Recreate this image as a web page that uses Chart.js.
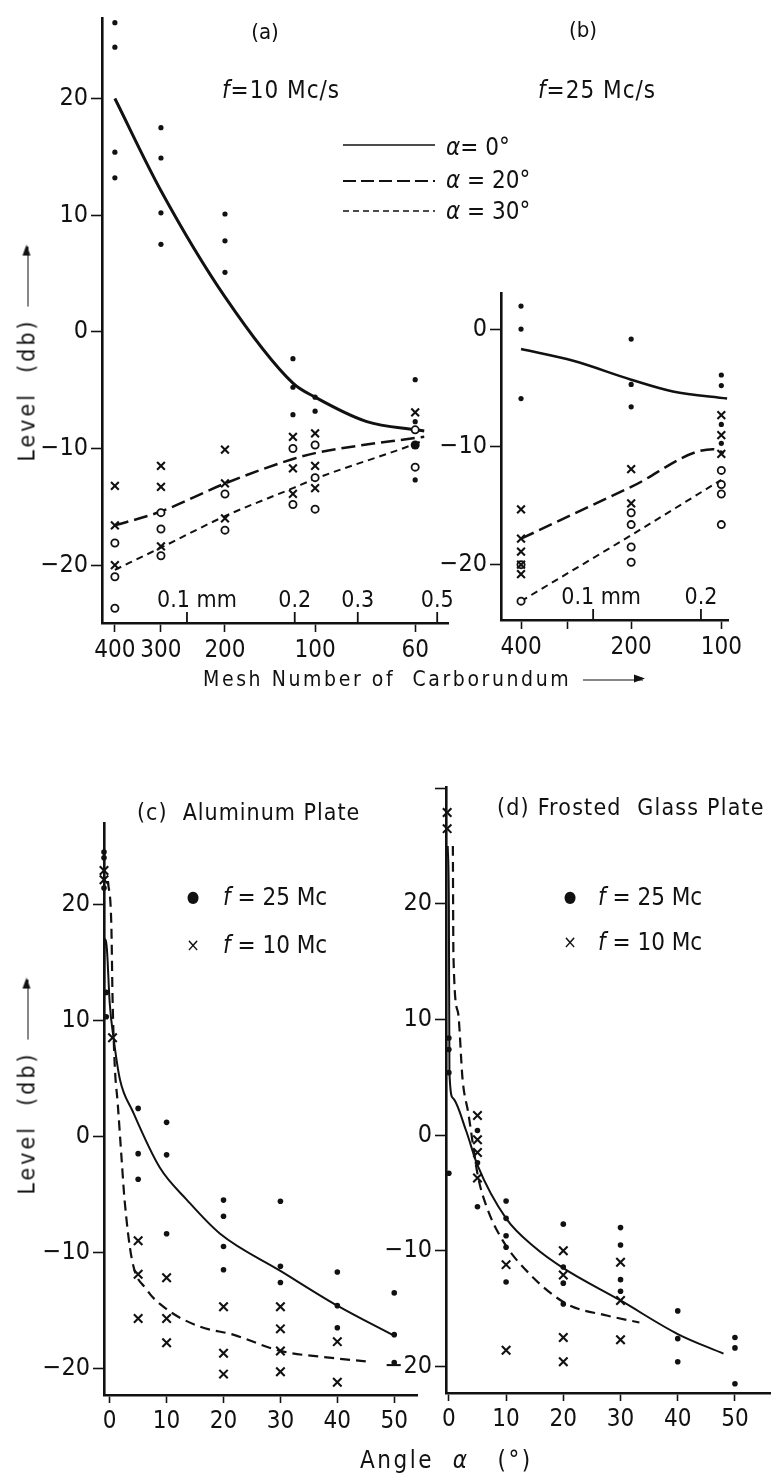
<!DOCTYPE html>
<html>
<head>
<meta charset="utf-8">
<title>Level vs mesh number and angle</title>
<script src="https://cdn.jsdelivr.net/npm/chart.js@4.4.1/dist/chart.umd.min.js"></script>
<style>
  html, body { margin:0; padding:0; background:#fff; }
  body { position:relative; width:771px; height:1477px; overflow:hidden;
         font-family:'Liberation Sans Narrow','DejaVu Sans Condensed',sans-serif; color:#111; }
  canvas { position:absolute; left:0; top:0; }
  .t { position:absolute; white-space:nowrap; line-height:1; transform:translateY(-50%); }
  .c { transform:translate(-50%,-50%); }
  .arr { display:inline-block; position:relative; width:60px; height:0; border-top:1.6px solid #111; vertical-align:middle; margin-left:12px; }
  .arr::after { content:''; position:absolute; right:-2px; top:-5.8px; border-left:11px solid #111; border-top:4px solid transparent; border-bottom:4px solid transparent; }
  .yl { position:absolute; white-space:nowrap; line-height:1; transform:translate(-50%,-50%) rotate(-90deg); font-size:23px; letter-spacing:3px; }
</style>
</head>
<body>
<canvas id="pa" width="771" height="1477"></canvas>
<canvas id="pb" width="771" height="1477"></canvas>
<canvas id="pc" width="771" height="1477"></canvas>
<canvas id="pd" width="771" height="1477"></canvas>

<div class="t c" style="left:265px;top:32px;font-size:22px">(a)</div>
<div class="t" style="left:222px;top:90px;font-size:24px;letter-spacing:1px"><i>f</i>=10 Mc/s</div>
<div class="t c" style="left:583px;top:30px;font-size:22px">(b)</div>
<div class="t" style="left:538px;top:90px;font-size:24px;letter-spacing:1px"><i>f</i>=25 Mc/s</div>
<div class="t" style="left:446px;top:147px;font-size:24px"><i>α</i>= 0°</div>
<div class="t" style="left:446px;top:180px;font-size:24px"><i>α</i> = 20°</div>
<div class="t" style="left:446px;top:211px;font-size:24px"><i>α</i> = 30°</div>
<div class="yl" style="left:27px;top:354px">Level&nbsp;&nbsp;(db)<span class="arr"></span></div>
<div class="t" style="left:203px;top:679px;font-size:21px;letter-spacing:2.6px">Mesh Number of&nbsp; Carborundum<span class="arr"></span></div>

<div class="t" style="left:137px;top:812px;font-size:23px;letter-spacing:1px">(c)&nbsp; Aluminum Plate</div>
<div class="t c" style="left:193px;top:897px;font-size:16px">●</div>
<div class="t" style="left:223px;top:897px;font-size:24px"><i>f</i> = 25 Mc</div>
<div class="t c" style="left:193px;top:945px;font-size:18px">×</div>
<div class="t" style="left:223px;top:945px;font-size:24px"><i>f</i> = 10 Mc</div>
<div class="t" style="left:497px;top:807px;font-size:23px;letter-spacing:1.2px">(d) Frosted&nbsp; Glass Plate</div>
<div class="t c" style="left:570px;top:897px;font-size:16px">●</div>
<div class="t" style="left:598px;top:897px;font-size:24px"><i>f</i> = 25 Mc</div>
<div class="t c" style="left:570px;top:942px;font-size:18px">×</div>
<div class="t" style="left:598px;top:942px;font-size:24px"><i>f</i> = 10 Mc</div>
<div class="yl" style="left:27px;top:1087px">Level&nbsp;&nbsp;(db)<span class="arr"></span></div>
<div class="t" style="left:360px;top:1460px;font-size:24px;letter-spacing:2.5px">Angle&nbsp; <i>α</i>&nbsp;&nbsp; (°)</div>

<script>
const INK = '#111';
const FONT = "'Liberation Sans Narrow','DejaVu Sans Condensed',sans-serif";
const YW = 60, XH = 50;

// ---- (a), (b): level against mesh number of carborundum ----
const meshNumber = [400, 300, 200, 120, 100, 60];
const meshSize   = [0.0629, 0.0846, 0.1277, 0.1977, 0.228, 0.434]; // grain size in mm
const grainTicks  = [0.1, 0.2, 0.3, 0.5];
const grainLabels = ['0.1 mm', '0.2', '0.3', '0.5'];
const levelTicks  = [20, 10, 0, -10, -20];
const levelLabels = ['20', '10', '0', '−10', '−20'];

// (a) f = 10 Mc/s, points as [mesh, level db]
const aDots = [[400,26.5],[400,24.4],[400,15.4],[400,13.2],[300,17.5],[300,14.9],[300,10.2],[300,7.5],
  [200,10.1],[200,7.8],[200,5.1],[120,-2.3],[120,-4.75],[120,-7.1],[100,-5.6],[100,-6.8],
  [60,-4.1],[60,-7.7],[60,-12.7]];
const aBigDot = [[60,-9.7]];
const aCross = [[400,-13.2],[400,-16.6],[400,-20.0],[300,-11.5],[300,-13.3],[300,-18.4],
  [200,-10.1],[200,-13.0],[200,-16.0],[120,-9.0],[120,-11.7],[120,-13.9],
  [100,-8.7],[100,-11.5],[100,-13.4],[60,-6.9]];
const aRing = [[400,-18.1],[400,-21.0],[400,-23.7],[300,-15.5],[300,-16.9],[300,-19.2],
  [200,-13.9],[200,-17.0],[120,-10.0],[120,-14.8],[100,-9.7],[100,-12.5],[100,-15.2],
  [60,-8.4],[60,-11.6]];
// fitted curves, [grain size mm, level db]
const aAlpha0  = [[0.0629,20],[0.0846,12.1],[0.1277,3.0],[0.1977,-4.4],[0.228,-5.6],[0.318,-7.7],[0.434,-8.4],[0.46,-8.5]];
const aAlpha20 = [[0.0629,-16.6],[0.0846,-15.4],[0.1277,-13.0],[0.1977,-10.9],[0.228,-10.4],[0.434,-9.1],[0.46,-9.0]];
const aAlpha30 = [[0.0629,-20.4],[0.0846,-18.5],[0.1277,-15.8],[0.1977,-13.4],[0.228,-12.6],[0.434,-9.6],[0.45,-9.4]];

// (b) f = 25 Mc/s
const bDots = [[400,1.95],[400,0],[400,-5.9],[200,-0.85],[200,-4.7],[200,-6.6],[100,-3.9],[100,-4.8],[100,-8.1],[100,-9.7]];
const bCross = [[400,-15.3],[400,-17.8],[400,-18.9],[400,-20.0],[400,-20.8],[200,-11.9],[200,-14.8],[100,-7.3],[100,-9.0],[100,-10.6]];
const bRing = [[400,-20.0],[400,-23.1],[200,-15.6],[200,-16.6],[200,-18.5],[200,-19.8],[100,-12.0],[100,-13.2],[100,-14.0],[100,-16.6]];
const bAlpha0  = [[0.0629,-1.7],[0.088,-2.7],[0.1277,-4.3],[0.167,-5.3],[0.2366,-5.9]];
const bAlpha20 = [[0.0629,-17.8],[0.1277,-13.4],[0.216,-10.2],[0.232,-10.5]];
const bAlpha30 = [[0.0629,-23.1],[0.1277,-17.5],[0.228,-12.8]];

// ---- (c), (d): level against angle alpha, [deg, level db] ----
const angleTicks = [0, 10, 20, 30, 40, 50];
const cDots = [[-1,24.5],[-1,24.0],[-1,21.4],[-0.6,12.4],[-0.6,10.3],[5,2.4],[5,-1.5],[5,-3.7],
  [10,1.2],[10,-1.6],[10,-8.4],[20,-5.5],[20,-6.9],[20,-9.5],[20,-11.5],[30,-5.6],[30,-11.2],[30,-12.6],
  [40,-11.7],[40,-14.6],[40,-16.5],[50,-13.5],[50,-17.1],[50,-19.5]];
const cCross = [[-1,22.9],[-1,22.1],[0.5,8.5],[5,-9.0],[5,-11.9],[5,-15.7],[10,-12.2],[10,-15.7],[10,-17.8],
  [20,-14.7],[20,-18.7],[20,-20.5],[30,-14.7],[30,-16.6],[30,-18.5],[30,-20.3],[40,-17.7],[40,-21.2]];
const cSolid = [[-1,10.3],[-0.9,17],[-0.5,16.2],[0,11.5],[0.7,8.4],[1.8,4.9],[4,2.2],[8.8,-2.7],[13.6,-5.5],[19.4,-8.4],[30,-11.6],[40,-14.6],[50,-17.2]];
const cDash  = [[-0.3,22],[0.3,18],[0.5,12],[0.9,6],[1.4,2.9],[2.1,-2],[2.6,-5.4],[3.9,-10.6],[6.5,-13.2],[10,-14.9],[15.8,-16.4],[21.7,-17.1],[30,-18.5],[39,-19.1],[45,-19.4]];

const dDots = [[0,8.4],[0,7.4],[0,5.4],[0,-3.3],[5,0.4],[5,-2.4],[5,-6.2],
  [10,-5.7],[10,-7.2],[10,-8.7],[10,-9.7],[10,-12.7],[20,-7.7],[20,-11.4],[20,-12.8],[20,-14.6],
  [30,-8.0],[30,-9.5],[30,-12.5],[30,-13.5],[40,-15.2],[40,-17.6],[40,-19.6],[50,-17.5],[50,-18.4],[50,-21.5]];
const dCross = [[-0.3,27.9],[-0.3,26.5],[5,1.7],[5,-0.4],[5,-1.5],[5,-3.7],[10,-11.2],[10,-18.6],
  [20,-10.0],[20,-12.1],[20,-17.5],[20,-19.6],[30,-11.0],[30,-14.3],[30,-17.7]];
const dSolid = [[-0.2,25],[0,20],[0.1,5.4],[0.7,3.2],[3,0.4],[5,-2.6],[10,-7.2],[15,-9.7],[20,-11.5],[30,-14.3],[40,-17.2],[48,-18.9]];
const dDash  = [[0.7,25],[0.8,15.5],[1.6,10.6],[2.4,4.8],[3.4,1.9],[5.1,-3.6],[6.6,-6.2],[9.4,-9.1],[14.1,-12],[20.6,-14.6],[27.6,-15.6],[33.3,-16.2]];

// helpers
const mm = m => meshSize[meshNumber.indexOf(m)];
const meshXY = pts => pts.map(p => ({ x: mm(p[0]), y: p[1] }));
const xy = pts => pts.map(p => ({ x: p[0], y: p[1] }));

const dots = (data, r) => ({ data, pointStyle:'circle', pointRadius:r || 2.6, pointBackgroundColor:INK, pointBorderColor:INK, pointBorderWidth:0, clip:false });
const crosses = (data, r) => ({ data, pointStyle:'crossRot', pointRadius:r || 5.5, pointBorderColor:INK, pointBorderWidth:2.1, clip:false });
const rings = data => ({ data, pointStyle:'circle', pointRadius:3.6, pointBackgroundColor:'#fff', pointBorderColor:INK, pointBorderWidth:1.8, clip:false });
const curve = (data, w, dash) => ({ data, showLine:true, pointRadius:0, borderColor:INK, borderWidth:w, borderDash:dash || [],
  cubicInterpolationMode:'monotone', fill:false, clip:false });

const gridOpts = len => ({ drawOnChartArea:false, drawTicks:true, tickLength:len, tickWidth:1.6, tickColor:INK });
const borderOpts = { display:true, color:INK, width:2.6 };

function yAxis(min, max, vals, labels) {
  return {
    type:'linear', min, max,
    afterBuildTicks: s => { s.ticks = vals.map(v => ({ value: v })); },
    ticks: { autoSkip:false, padding:3, color:INK, font:{ family:FONT, size:25 }, callback: v => labels[vals.indexOf(v)] },
    grid: gridOpts(11), border: borderOpts
  };
}

function meshAxis(min, max, shown, labelled) {
  return {
    type:'logarithmic', min, max,
    afterBuildTicks: s => { s.ticks = shown.map(m => ({ value: mm(m) })); },
    ticks: { autoSkip:false, maxRotation:0, padding:4, color:INK, font:{ family:FONT, size:24 },
      callback: v => { const m = meshNumber[meshSize.indexOf(v)]; return labelled.includes(m) ? String(m) : ''; } },
    grid: gridOpts(9), border: borderOpts
  };
}

function angleAxis(min, max) {
  return {
    type:'linear', min, max,
    afterBuildTicks: s => { s.ticks = angleTicks.map(v => ({ value: v })); },
    ticks: { autoSkip:false, maxRotation:0, padding:4, color:INK, font:{ family:FONT, size:24 } },
    grid: gridOpts(8), border: borderOpts
  };
}

// grain-size ticks drawn inward on the mesh axis
function grainPlugin(vals, labels, firstShift) {
  return {
    id: 'grain',
    afterDraw(chart) {
      const { ctx, chartArea } = chart;
      const x = chart.scales.x;
      ctx.save();
      ctx.strokeStyle = INK; ctx.fillStyle = INK; ctx.lineWidth = 1.8;
      ctx.font = '23px ' + FONT;
      ctx.textAlign = 'center'; ctx.textBaseline = 'middle';
      vals.forEach((v, i) => {
        const px = x.getPixelForValue(v);
        ctx.beginPath(); ctx.moveTo(px, chartArea.bottom); ctx.lineTo(px, chartArea.bottom - 11); ctx.stroke();
        ctx.fillText(labels[i], px + (i === 0 ? firstShift : 0), chartArea.bottom - 22);
      });
      ctx.restore();
    }
  };
}

// line samples for the alpha key in (a)
const alphaKey = {
  id: 'alphaKey',
  afterDraw(chart) {
    const ctx = chart.ctx;
    const rows = [[145, [], 1.6], [181, [13, 5], 1.9], [211, [6, 4], 1.5]];
    ctx.save(); ctx.strokeStyle = INK;
    rows.forEach(([yy, dash, w]) => {
      ctx.setLineDash(dash); ctx.lineWidth = w;
      ctx.beginPath(); ctx.moveTo(343, yy); ctx.lineTo(435, yy); ctx.stroke();
    });
    ctx.restore();
  }
};

function makePanel(id, area, x, y, datasets, plugins) {
  x.afterFit = s => { s.height = XH; };
  y.afterFit = s => { s.width = YW; };
  new Chart(document.getElementById(id), {
    type: 'scatter',
    data: { datasets },
    options: {
      responsive: false, animation: false, events: [],
      layout: { autoPadding: false, padding: { left: area[0] - YW, top: area[1], right: 771 - area[2], bottom: 1477 - area[3] - XH } },
      scales: { x, y },
      plugins: { legend: { display: false }, tooltip: { enabled: false } }
    },
    plugins: plugins || []
  });
}

makePanel('pa', [102, 12, 448, 623],
  meshAxis(0.0579, 0.536, [400, 300, 200, 100, 60], [400, 300, 200, 100, 60]),
  yAxis(-24.96, 26.9, levelTicks, levelLabels),
  [dots(meshXY(aDots)), dots(meshXY(aBigDot), 4.5), crosses(meshXY(aCross)), rings(meshXY(aRing)),
   curve(xy(aAlpha0), 3), curve(xy(aAlpha20), 2.5, [14, 6]), curve(xy(aAlpha30), 2, [7, 5])],
  [grainPlugin(grainTicks, grainLabels, 10), alphaKey]);

makePanel('pb', [501, 293, 728, 620],
  meshAxis(0.0553, 0.238, [400, 300, 200, 100], [400, 200, 100]),
  yAxis(-24.7, 3.06, [0, -10, -20], ['0', '−10', '−20']),
  [dots(meshXY(bDots)), crosses(meshXY(bCross)), rings(meshXY(bRing)),
   curve(xy(bAlpha0), 2.6), curve(xy(bAlpha20), 2.5, [14, 6]), curve(xy(bAlpha30), 2, [7, 5])],
  [grainPlugin(grainTicks.slice(0, 2), grainLabels.slice(0, 2), 8)]);

makePanel('pc', [104, 823, 417, 1395],
  angleAxis(-1, 54),
  yAxis(-22.3, 27.0, levelTicks, levelLabels),
  [dots(xy(cDots), 2.8), crosses(xy(cCross), 6), curve(xy(cSolid), 2), curve(xy(cDash), 2.2, [10, 6])]);

makePanel('pd', [446, 787, 771, 1393],
  angleAxis(-0.5, 56.3),
  yAxis(-22.3, 30.1, [30].concat(levelTicks), [''].concat(levelLabels)),
  [dots(xy(dDots), 2.8), crosses(xy(dCross), 6), curve(xy(dSolid), 2), curve(xy(dDash), 2.2, [10, 6])]);
</script>
</body>
</html>
